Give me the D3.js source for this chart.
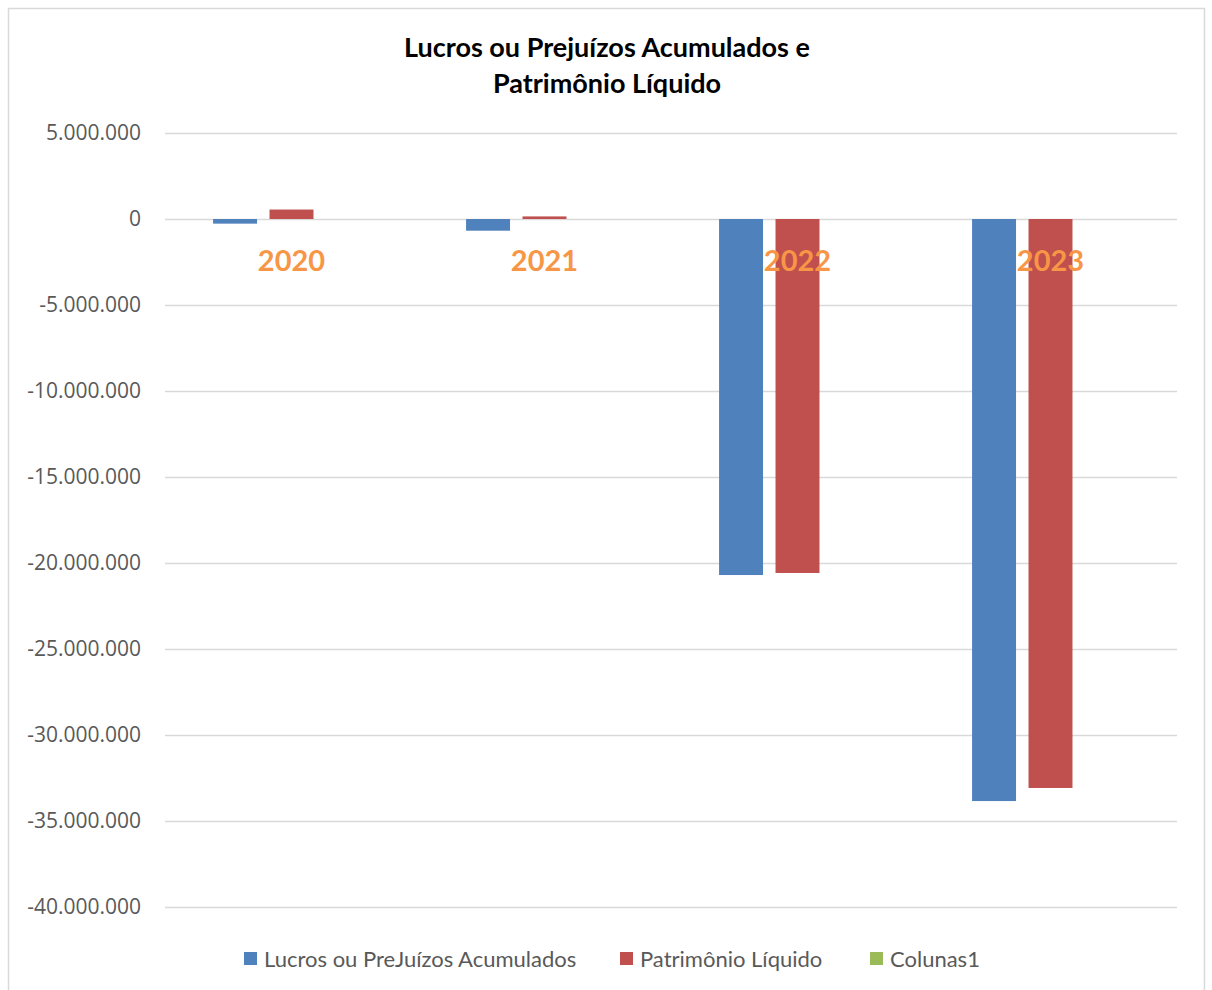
<!DOCTYPE html>
<html>
<head>
<meta charset="utf-8">
<title>Lucros ou Prejuízos Acumulados e Patrimônio Líquido</title>
<script src="https://cdn.jsdelivr.net/npm/d3@7"></script>
<style>
  * { margin: 0; padding: 0; }
  body { background: #fff; }
  svg { display: block; }
</style>
</head>
<body>
<div id="chart"></div>
<script>
// Data
const years = ["2020", "2021", "2022", "2023"];
const seriesNames = ["Lucros ou PreJuízos Acumulados", "Patrimônio Líquido", "Colunas1"];
const lucros = [-270000, -680000, -20700000, -33840000];
const patrimonio = [550000, 150000, -20580000, -33080000];
const colunas1 = [0, 0, 0, 0];
const yTicks = [5000000, 0, -5000000, -10000000, -15000000, -20000000, -25000000, -30000000, -35000000, -40000000];
const colors = ["#4f81bd", "#c0504d", "#9bbb59"];

const width = 1212, height = 990;
const plot = { left: 165, right: 1177, top: 133, bottom: 907 };

const svg = d3.select("#chart").append("svg")
    .attr("width", width)
    .attr("height", height);

// chart border
svg.append("rect")
    .attr("x", 8.5).attr("y", 8.5)
    .attr("width", 1196).attr("height", 1000)
    .attr("fill", "#fff")
    .attr("stroke", "#d9d9d9")
    .attr("stroke-width", 1.5);

// title
const title = svg.append("text")
    .attr("text-anchor", "middle")
    .attr("font-family", "Lato, 'Open Sans', sans-serif")
    .attr("font-weight", "bold")
    .attr("font-size", 27)
    .attr("fill", "#000");
title.append("tspan").attr("x", 607).attr("y", 57).text("Lucros ou Prejuízos Acumulados e");
title.append("tspan").attr("x", 607).attr("y", 93).text("Patrimônio Líquido");

const locale = d3.formatLocale({ decimal: ",", thousands: ".", grouping: [3], currency: ["R$", ""], minus: "-" });
const fmt = locale.format(",d");

const y = d3.scaleLinear()
    .domain([-40000000, 5000000])
    .range([plot.bottom, plot.top]);

const x0 = d3.scaleBand()
    .domain(years)
    .range([plot.left, plot.right])
    .paddingInner(0.38)
    .paddingOuter(0.19);

const x1 = d3.scaleBand()
    .domain(seriesNames)
    .range([0, x0.bandwidth()])
    .paddingInner(0.221);

// gridlines + labels via axis
const yAxis = d3.axisLeft(y)
    .tickValues(yTicks)
    .tickSize(-(plot.right - plot.left))
    .tickPadding(24)
    .tickFormat(fmt);

const gy = svg.append("g")
    .attr("transform", `translate(${plot.left},0)`)
    .call(yAxis);
gy.select(".domain").remove();
gy.selectAll(".tick line")
    .attr("stroke", "#d9d9d9")
    .attr("stroke-width", 1.5);
gy.selectAll(".tick text")
    .attr("font-family", "'Open Sans', sans-serif")
    .attr("font-size", 21)
    .attr("fill", "#595959");

// bars
const table = years.map((yr, i) => ({
    year: yr,
    values: [lucros[i], patrimonio[i], colunas1[i]]
}));

const groups = svg.append("g").selectAll("g")
    .data(table)
    .join("g")
    .attr("transform", d => `translate(${x0(d.year)},0)`);

groups.selectAll("rect")
    .data(d => d.values.map((v, j) => ({ name: seriesNames[j], value: v, color: colors[j] })))
    .join("rect")
    .attr("x", d => x1(d.name))
    .attr("width", x1.bandwidth())
    .attr("y", d => y(Math.max(0, d.value)))
    .attr("height", d => Math.abs(y(d.value) - y(0)))
    .attr("fill", d => d.color);

// category labels (orange, below zero line)
const xAxis = d3.axisBottom(x0).tickSize(0).tickPadding(0);
const gx = svg.append("g")
    .attr("transform", `translate(0,${y(0)})`)
    .call(xAxis);
gx.select(".domain").remove();
gx.selectAll(".tick text")
    .attr("dy", 0)
    .attr("y", 52)
    .attr("font-family", "Lato, sans-serif")
    .attr("font-weight", "bold")
    .attr("font-size", 29)
    .attr("fill", "#f79646");

// legend
const legendX = [244, 620, 870];
const legend = svg.append("g").selectAll("g")
    .data(seriesNames)
    .join("g")
    .attr("transform", (d, i) => `translate(${legendX[i]},952)`);
legend.append("rect")
    .attr("width", 13).attr("height", 13)
    .attr("fill", (d, i) => colors[i]);
legend.append("text")
    .attr("x", 20).attr("y", 15)
    .attr("font-family", "Lato, sans-serif")
    .attr("font-size", 22)
    .attr("fill", "#595959")
    .text(d => d);
</script>
</body>
</html>
